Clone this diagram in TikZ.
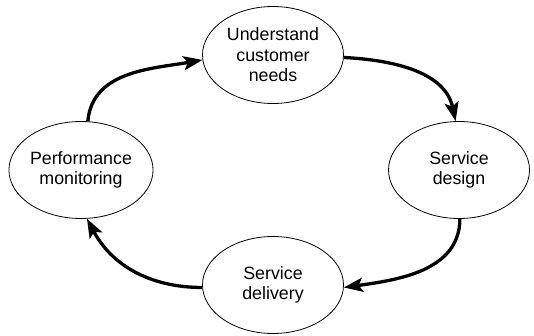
\documentclass[tikz,border=0pt]{standalone}
\usepackage{fontspec}
\setmainfont{Liberation Sans}
\usetikzlibrary{shapes.geometric,arrows.meta}
\begin{document}
\begin{tikzpicture}[x=1pt,y=-1pt,
  stage/.style={ellipse, draw, line width=0.8pt, inner sep=0pt,
    minimum width=141pt, minimum height=97pt, align=center,
    font=\fontsize{17.8}{20.5}\selectfont},
  flow/.style={line width=3.3pt, -{Stealth[length=19pt,width=14pt,inset=4pt]}}]
\useasboundingbox (0,0) rectangle (534,336);
\node[stage] (T) at (273,55) {Understand\\customer\\needs};
\node[stage] (R) at (459,170) {Service\\design};
\node[stage] (B) at (273,285) {Service\\delivery};
\node[stage] (L) at (81,170) {Performance\\monitoring};
\draw[flow] (L.82) to[out=85,in=190] (T.184);
\draw[flow] (T.-2) to[out=-3,in=102] (R.94);
\draw[flow] (R.-89) to[out=-90,in=8] (B.-2);
\draw[flow] (B.182) to[out=180,in=-62] (L.-83);
\end{tikzpicture}
\end{document}
